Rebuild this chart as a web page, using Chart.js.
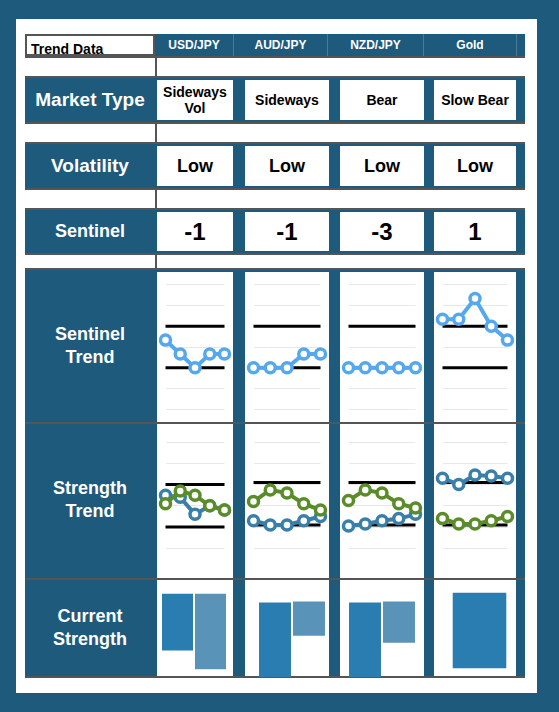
<!DOCTYPE html>
<html><head><meta charset="utf-8">
<script src="https://cdn.jsdelivr.net/npm/chart.js@4/dist/chart.umd.min.js"></script>
<style>
body{margin:0;background:#1e5a7b;font-family:"Liberation Sans",Arial,sans-serif;}
#wrap{position:relative;width:559px;height:712px;}
.a{position:absolute;box-sizing:border-box;}
.c{display:flex;align-items:center;justify-content:center;text-align:center;font-weight:bold;}
canvas{position:absolute;}
</style></head><body><div id="wrap"></div>
<script>
const columns=["USD/JPY","AUD/JPY","NZD/JPY","Gold"];
const marketType=["Sideways<br>Vol","Sideways","Bear","Slow Bear"];
const volatility=["Low","Low","Low","Low"];
const sentinel=["-1","-1","-3","1"];
const sentinelTrend=[[1,-1,-3,-1,-1],[-3,-3,-3,-1,-1],[-3,-3,-3,-3,-3],[4,4,7,3,1]];
const sentinelBands=[3,-3];
const strengthGreen=[[3.1,3.7,3.5,3.0,2.8],[3.2,3.75,3.6,3.1,2.8],[3.25,3.75,3.6,3.1,2.9],[2.4,2.15,2.15,2.3,2.5]];
const strengthBlue=[[3.5,3.4,2.6,3.0,2.8],[2.3,2.1,2.1,2.3,2.5],[2.05,2.15,2.3,2.4,2.6],[4.3,4.0,4.45,4.4,4.3]];
const strengthBands=[[4,2],[4.1,2.1],[4.1,2.1],[4.1,2.1]];
const currentStrength=[[[28,86],[9,86]],[[1,77],[43,78]],[[1,77],[36,78]],[[10,87]]];

const W=document.getElementById('wrap');
function box(x,y,w,h,css,html){const d=document.createElement('div');d.className='a'+(html!==undefined?' c':'');d.style.cssText=`left:${x}px;top:${y}px;width:${w}px;height:${h}px;`+css;if(html!==undefined)d.innerHTML=html;W.appendChild(d);return d;}
const BLUE='#1e5a7b',G='#555';
box(16,19,521,674,'background:#fff;');
box(25,34,500,644,'background:'+BLUE+';');
const cols=[[157,233],[245,329],[340,424],[434,516]];
box(25,34,130,22,'background:#fff;border:2px solid '+G+';');
box(31,37,124,20,'font-weight:bold;font-size:14px;display:flex;align-items:flex-end;',undefined).textContent='Trend Data';
const hsep=[155,234,328,424,517,525];
for(let i=0;i<4;i++){box(hsep[i],34,hsep[i+1]-hsep[i],22,'color:#fff;font-size:12px;border-right:1px solid #4a7a96;',columns[i]);}
[[56,22],[122,22],[188,22],[253,17]].forEach(([y,h])=>{box(25,y,500,h,'background:#fff;border-top:2px solid '+G+';border-bottom:2px solid '+G+';');box(155,y,2,h,'background:'+G+';');});
const rows=[["Market Type",78,44,19],["Volatility",144,44,19],["Sentinel",210,43,18],["Sentinel<br>Trend",270,152,18],["Strength<br>Trend",422,156,18],["Current<br>Strength",578,100,18]];
rows.forEach(([t,y,h,fs])=>{box(25,y,130,h,'color:#fff;font-size:'+fs+'px;line-height:1.3;',t);});
[422,578].forEach(y=>box(25,y,500,2,'background:'+G+';'));
box(25,676,500,2,'background:'+G+';');
function cells(y,h,vals,fs){cols.forEach(([a,b],i)=>{box(a,y+2,b-a,h-4,'background:#fff;font-size:'+fs+'px;line-height:1.15;',vals?vals[i]:'');});}
cells(78,44,marketType,14);cells(144,44,volatility,18);cells(210,43,sentinel,24);
cols.forEach(([a,b])=>{box(a,272,b-a,150,'background:#fff;');box(a,424,b-a,154,'background:#fff;');box(a,580,b-a,96,'background:#fff;');});

function canvas(x,y,w,h){const c=document.createElement('canvas');c.width=w;c.height=h;c.style.cssText=`left:${x}px;top:${y}px;width:${w}px;height:${h}px;`;W.appendChild(c);return c;}
const lbl=['1','2','3','4','5'];
function lineOpts(min,max,ticks,pad){return{responsive:false,animation:false,events:[],layout:{padding:pad},
 plugins:{legend:{display:false},tooltip:{enabled:false}},
 scales:{x:{display:false},y:{min,max,afterBuildTicks:s=>{s.ticks=ticks.map(v=>({value:v}));},ticks:{display:false},border:{display:false},grid:{color:'#e8e8e8',drawTicks:false}}}};}
function band(v,n){return{data:Array(n).fill(v),borderColor:'#000',borderWidth:3,pointRadius:0,order:2};}
function pts(d,col){return{data:d,borderColor:col,backgroundColor:'#fff',borderWidth:4,pointRadius:5,pointBorderWidth:3.5,clip:false,order:1};}
const pads=[{left:6,right:4},{left:6,right:8},{left:4,right:6},{left:6,right:6}];
cols.forEach(([a,b],i)=>{
 new Chart(canvas(a,272,b-a,148),{type:'line',data:{labels:lbl,datasets:[pts(sentinelTrend[i],'#55a8ee'),band(sentinelBands[0],5),band(sentinelBands[1],5)]},options:lineOpts(-9.3,9.6,[-9,-6,-3,0,3,6,9],pads[i])});
 new Chart(canvas(a,424,b-a,152),{type:'line',data:{labels:lbl,datasets:[pts(strengthGreen[i],'#5b8c2a'),pts(strengthBlue[i],'#3a7fa9'),band(strengthBands[i][0],5),band(strengthBands[i][1],5)]},options:lineOpts(0.1,6.45,[1,2,3,4,5,6],pads[i])});
});
const barPads=[{left:4,right:6},{left:13,right:3},{left:8,right:8},{left:17,right:8}];
cols.forEach(([a,b],i)=>{
 const d=currentStrength[i];
 new Chart(canvas(a,580,b-a,98),{type:'bar',data:{labels:d.map((_,k)=>'s'+k),datasets:[{data:d,backgroundColor:d.length>1?['#2a7db0','#5a93b8']:['#2a7db0'],barPercentage:0.94,categoryPercentage:1}]},
 options:{responsive:false,animation:false,events:[],layout:{padding:barPads[i]},plugins:{legend:{display:false},tooltip:{enabled:false}},scales:{x:{display:false},y:{display:false,min:0,max:100}}}});
});
</script></body></html>
